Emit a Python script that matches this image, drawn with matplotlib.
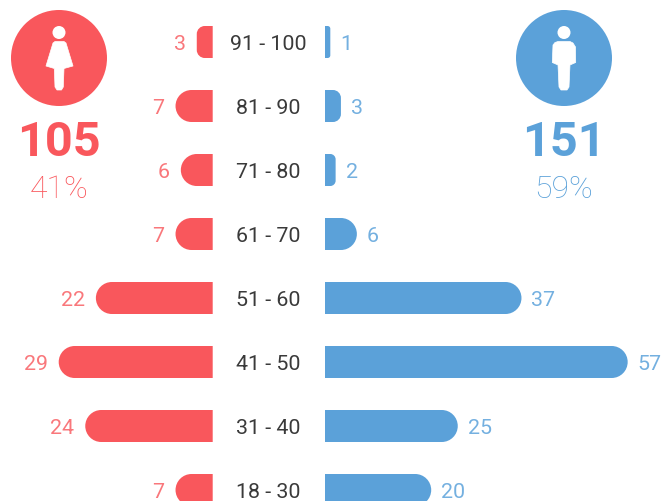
import matplotlib
matplotlib.use("Agg")
import matplotlib.pyplot as plt
from matplotlib.path import Path
from matplotlib.patches import PathPatch, Circle, Polygon

ages = ["91 - 100", "81 - 90", "71 - 80", "61 - 70", "51 - 60", "41 - 50", "31 - 40", "18 - 30"]
female = [3, 7, 6, 7, 22, 29, 24, 7]
male = [1, 3, 2, 6, 37, 57, 25, 20]
female_total, female_pct = "105", "41%"
male_total, male_pct = "151", "59%"

RED = "#F9575C"
BLUE = "#5BA1D9"
RED_T = "#F9777B"
BLUE_T = "#74B0E0"
DARK = "#3A3A3A"
FONT = "Roboto"

UNIT = 5.31
LEFT0, RIGHT0 = 212.7, 325
H = 32
Y0, STEP = 42, 64

fig = plt.figure(figsize=(6.61, 5.01), dpi=100)
ax = fig.add_axes([0, 0, 1, 1])
ax.set_xlim(0, 661)
ax.set_ylim(501, 0)
ax.axis("off")


def bar(x0, length, yc, direction, color):
    r = min(H / 2, length / 2)
    k = 0.5523 * r
    t, b = yc - H / 2, yc + H / 2
    x1 = x0 + direction * length
    xi = x1 - direction * r
    d = direction
    v = [(x0, t), (xi, t),
         (xi + d * k, t), (x1, t + r - k), (x1, t + r),
         (x1, b - r),
         (x1, b - r + k), (xi + d * k, b), (xi, b),
         (x0, b), (x0, t)]
    c = [Path.MOVETO, Path.LINETO,
         Path.CURVE4, Path.CURVE4, Path.CURVE4,
         Path.LINETO,
         Path.CURVE4, Path.CURVE4, Path.CURVE4,
         Path.LINETO, Path.CLOSEPOLY]
    ax.add_patch(PathPatch(Path(v, c), fc=color, ec="none"))


for i, (age, f, m) in enumerate(zip(ages, female, male)):
    y = Y0 + i * STEP
    fl, ml = f * UNIT, m * UNIT
    bar(LEFT0, fl, y, -1, RED)
    bar(RIGHT0, ml, y, 1, BLUE)
    ax.text(268.5, y, age, ha="center", va="center_baseline", fontsize=15.4,
            color=DARK, family=FONT)
    ax.text(LEFT0 - fl - 11, y, str(f), ha="right", va="center_baseline", fontsize=15.4,
            color=RED_T, family=FONT)
    ax.text(RIGHT0 + ml + 10, y, str(m), ha="left", va="center_baseline", fontsize=15.4,
            color=BLUE_T, family=FONT)

# Badges
ax.add_patch(Circle((59, 58), 48, fc=RED, ec="none"))
ax.add_patch(Circle((564, 58), 48, fc=BLUE, ec="none"))

# Female icon
ax.add_patch(Circle((59, 32.5), 6.5, fc="white", ec="none"))
ax.add_patch(Polygon([(55, 41.5), (64, 41.5), (66, 43), (73, 66), (64, 68.5), (63.3, 87),
                      (61.5, 90), (57, 90), (55, 87), (54.3, 68.5), (46, 66), (53, 43)],
                     closed=True, fc="white", ec="white", lw=0.5, joinstyle="round"))
# Male icon
ax.add_patch(Circle((564, 32.5), 6.5, fc="white", ec="none"))
ax.add_patch(Polygon([(558, 41.5), (570, 41.5), (573, 43), (575.5, 47), (575.7, 62.5), (570, 65), (569, 87),
                      (567, 90), (561, 90), (559, 87), (558, 65), (552.3, 62.5), (553, 45), (555, 42.5)],
                     closed=True, fc="white", ec="white", lw=0.5, joinstyle="round"))

# Totals
for x, tot, pct, col in [(59, female_total, female_pct, RED),
                         (564, male_total, male_pct, BLUE)]:
    ax.text(x, 138, tot, ha="center", va="center_baseline", fontsize=35, weight="bold",
            color=col, family=FONT)
    ax.text(x, 186.5, pct, ha="center", va="center_baseline", fontsize=23, weight="light",
            color=col, family=FONT)

fig.savefig("out.png", dpi=100, facecolor="white")
